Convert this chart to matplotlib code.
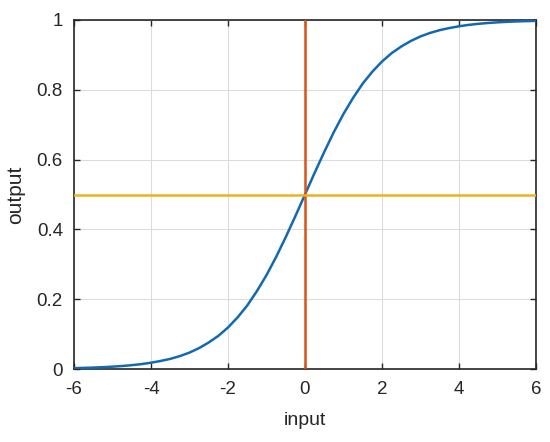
import matplotlib
matplotlib.use("Agg")
import matplotlib.pyplot as plt

# curve values
x_in = [-6, -5.75, -5.5, -5.25, -5, -4.75, -4.5, -4.25, -4, -3.75, -3.5, -3.25,
        -3, -2.75, -2.5, -2.25, -2, -1.75, -1.5, -1.25, -1, -0.75, -0.5, -0.25,
        0, 0.25, 0.5, 0.75, 1, 1.25, 1.5, 1.75, 2, 2.25, 2.5, 2.75,
        3, 3.25, 3.5, 3.75, 4, 4.25, 4.5, 4.75, 5, 5.25, 5.5, 5.75, 6]
y_out = [0.0025, 0.0032, 0.0041, 0.0052, 0.0067, 0.0086, 0.011, 0.014, 0.018, 0.023, 0.029, 0.037,
         0.047, 0.060, 0.076, 0.095, 0.119, 0.148, 0.182, 0.223, 0.269, 0.321, 0.378, 0.438,
         0.5, 0.562, 0.622, 0.679, 0.731, 0.777, 0.818, 0.852, 0.881, 0.905, 0.924, 0.940,
         0.953, 0.963, 0.971, 0.977, 0.982, 0.986, 0.989, 0.9914, 0.9933, 0.9948, 0.9959, 0.9968, 0.9975]

vline_x = [0, 0]
vline_y = [0, 1]
hline_x = [-6, 6]
hline_y = [0.5, 0.5]

xticks = [-6, -4, -2, 0, 2, 4, 6]
yticks = [0, 0.2, 0.4, 0.6, 0.8, 1]
yticklabels = ["0", "0.2", "0.4", "0.6", "0.8", "1"]

plt.rcParams['font.family'] = ['Liberation Sans', 'DejaVu Sans']
plt.rcParams['axes.unicode_minus'] = False

fig = plt.figure(figsize=(5.5, 4.42), dpi=100)
ax = fig.add_axes([74/550, 1 - 369/442, (536-74)/550, (369-20)/442])

ax.plot(x_in, y_out, color='#1269b0', lw=1.8, zorder=3)
ax.plot(vline_x, vline_y, color='#D95319', lw=1.8, zorder=3)
ax.plot(hline_x, hline_y, color='#EDB120', lw=1.8, zorder=3)

ax.set_xlim(-6, 6)
ax.set_ylim(0, 1)
ax.set_xticks(xticks)
ax.set_yticks(yticks)
ax.set_yticklabels(yticklabels)
ax.grid(True, color='#dcdcdc', lw=0.8)
ax.set_axisbelow(True)
ax.tick_params(direction='in', length=4, width=1, colors='#262626', labelsize=13.5,
               top=True, right=True)
ax.tick_params(axis='x', pad=9)
ax.tick_params(axis='y', pad=8)
for s in ax.spines.values():
    s.set_color('#262626')
    s.set_linewidth(1.2)
ax.set_xlabel('input', fontsize=14, color='#262626', labelpad=10)
ax.set_ylabel('output', fontsize=15, color='#262626', labelpad=8)

fig.savefig('out.png', dpi=100, facecolor='white')
